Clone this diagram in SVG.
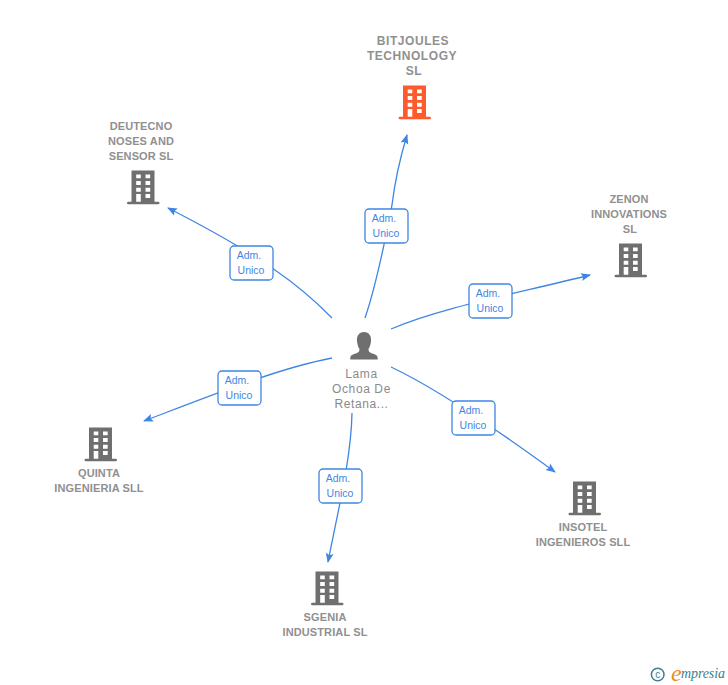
<svg xmlns="http://www.w3.org/2000/svg" width="728" height="685" viewBox="0 0 728 685">
<style>
.lbl{font-family:"Liberation Sans",Arial,sans-serif;font-size:11px;fill:#909090;text-anchor:middle;font-weight:700;letter-spacing:.12px}
.top{font-size:12px;letter-spacing:.55px}
.per{font-family:"Liberation Sans",Arial,sans-serif;font-size:12px;fill:#8a8a8a;text-anchor:middle;letter-spacing:.6px}
.edge{fill:none;stroke:#3f86e4;stroke-width:1.3;marker-end:url(#arr)}
.box{fill:#fff;stroke:#3f86e4;stroke-width:1.3}
.bt{font-family:"Liberation Sans",Arial,sans-serif;font-size:10.5px;fill:#3f86e4;text-anchor:middle}
</style>
<defs>
<marker id="arr" markerWidth="11" markerHeight="10" refX="9" refY="4.5" orient="auto" markerUnits="userSpaceOnUse"><path d="M0 0.500L10 4.500L0 8.500L2 4.500Z" fill="#3f86e4"/></marker>
<g id="bld">
<path fill-rule="evenodd" d="M-12 -16.500H11V14.700H14.500Q16 14.700 16 16Q16 17.300 14.500 17.300H-15Q-16.500 17.300 -16.500 16Q-16.500 14.700 -15 14.700H-12ZM-7.300 -12.500V-8.700H-2.700V-12.500ZM2 -12.500V-8.700H6.700V-12.500ZM-7.300 -6V-2H-2.700V-6ZM2 -6V-2H6.700V-6ZM-7.300 .7V4.700H-2.700V.7ZM2 .7V4.700H6.700V.7ZM-7.300 7V14.700H-2.700V7ZM2 7V11H6.700V7Z"/>
</g>
</defs>
<g id="connectors">
<path class="edge" d="M365 318C378 280 387 230 392 205C395 180 401 155 407 135"/>
<path class="edge" d="M332 318C300 285 260 255 168 208"/>
<path class="edge" d="M391 329C440 308 510 295 590 275"/>
<path class="edge" d="M332 358C280 368 220 392 144 421"/>
<path class="edge" d="M352 413C351 460 338 510 328 562"/>
<path class="edge" d="M391 367C425 383 470 410 555 472"/>
</g>
<g id="edge-labels">
<g><rect class="box" x="365" y="209" width="43" height="34" rx="4"/><text class="bt" x="384" y="222">Adm.</text><text class="bt" x="386" y="237">Unico</text></g>
<g><rect class="box" x="230" y="246" width="43" height="34" rx="4"/><text class="bt" x="249" y="259">Adm.</text><text class="bt" x="251" y="274">Unico</text></g>
<g><rect class="box" x="469" y="284" width="43" height="34" rx="4"/><text class="bt" x="488" y="297">Adm.</text><text class="bt" x="490" y="312">Unico</text></g>
<g><rect class="box" x="218" y="371" width="43" height="34" rx="4"/><text class="bt" x="237" y="384">Adm.</text><text class="bt" x="239" y="399">Unico</text></g>
<g><rect class="box" x="452" y="401" width="43" height="34" rx="4"/><text class="bt" x="471" y="414">Adm.</text><text class="bt" x="473" y="429">Unico</text></g>
<g><rect class="box" x="319" y="469" width="43" height="34" rx="4"/><text class="bt" x="338" y="482">Adm.</text><text class="bt" x="340" y="497">Unico</text></g>
</g>
<g id="node-center">
<path fill="#6f6f6f" d="M364 332C369 332 371.500 336 371 341C370.700 345 369.500 347.500 368.500 349C368.500 351 369 352 371 353C374 354 377.700 355 377.700 358V359.500H350.300V358C350.300 355 354 354 357 353C359 352 359.500 351 359.500 349C358.500 347.500 357.300 345 357 341C356.500 336 359 332 364 332Z"/>
<text class="per" x="361.500" y="378">Lama</text><text class="per" x="361.500" y="393">Ochoa De</text><text class="per" x="361.500" y="408">Retana...</text>
</g>
<g id="node-bitjoules">
<text class="lbl top" x="413" y="45">BITJOULES</text><text class="lbl top" x="412" y="60">TECHNOLOGY</text><text class="lbl top" x="414" y="75">SL</text>
<use href="#bld" x="415" y="102" fill="#ff5a2b"/>
</g>
<g id="node-deutecno">
<text class="lbl" x="141" y="130">DEUTECNO</text><text class="lbl" x="141" y="145">NOSES AND</text><text class="lbl" x="141" y="160">SENSOR SL</text>
<use href="#bld" x="143.500" y="187" fill="#6f6f6f"/>
</g>
<g id="node-zenon">
<text class="lbl" x="629" y="203">ZENON</text><text class="lbl" x="629" y="218">INNOVATIONS</text><text class="lbl" x="630" y="233">SL</text>
<use href="#bld" x="631" y="260" fill="#6f6f6f"/>
</g>
<g id="node-quinta">
<use href="#bld" x="101" y="444" fill="#6f6f6f"/>
<text class="lbl" x="99" y="477">QUINTA</text><text class="lbl" x="99" y="492">INGENIERIA SLL</text>
</g>
<g id="node-insotel">
<use href="#bld" x="585" y="498" fill="#6f6f6f"/>
<text class="lbl" x="583" y="531">INSOTEL</text><text class="lbl" x="583" y="546">INGENIEROS SLL</text>
</g>
<g id="node-sgenia">
<use href="#bld" x="327.500" y="588" fill="#6f6f6f"/>
<text class="lbl" x="325" y="621">SGENIA</text><text class="lbl" x="325" y="636">INDUSTRIAL SL</text>
</g>
<g id="logo">
<circle cx="657.700" cy="674.500" r="6.300" fill="none" stroke="#3d7f8f" stroke-width="1.500"/>
<text x="657.700" y="678" font-family="Liberation Sans,sans-serif" font-size="10" fill="#3d7f8f" text-anchor="middle">c</text>
<text x="671" y="681" font-family="Liberation Serif,serif" font-size="24" font-style="italic" fill="#f08a1d">e</text>
<text x="681" y="678" font-family="Liberation Serif,serif" font-size="14" font-style="italic" fill="#3d7f8f" textLength="44">mpresia</text>
</g>
</svg>
